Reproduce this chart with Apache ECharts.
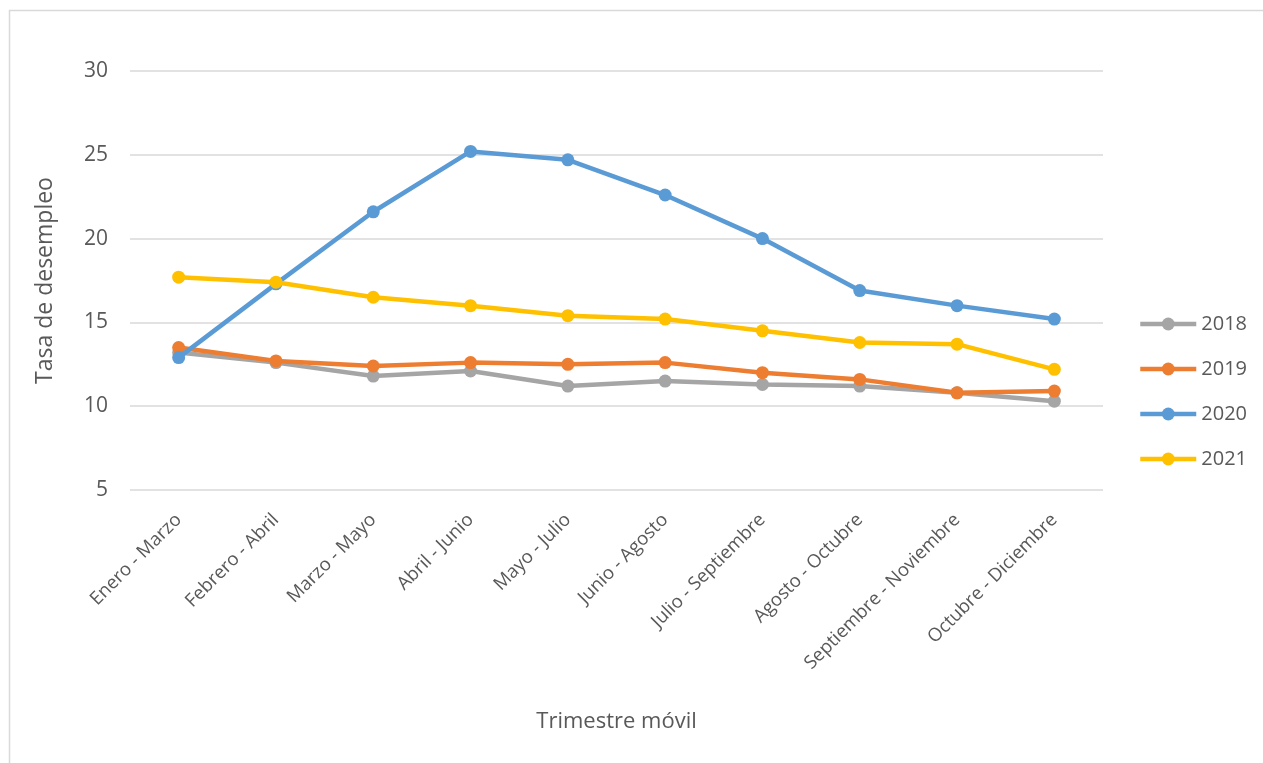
<!DOCTYPE html>
<html>
<head>
<meta charset="utf-8">
<script src="https://cdn.jsdelivr.net/npm/echarts@6/dist/echarts.min.js"></script>
<style>
html,body{margin:0;padding:0;background:#fff;}
#chart{width:1263px;height:763px;}
</style>
</head>
<body>
<div id="chart"></div>
<script>
const categories = ["Enero - Marzo","Febrero - Abril","Marzo - Mayo","Abril - Junio","Mayo - Julio","Junio - Agosto","Julio - Septiembre","Agosto - Octubre","Septiembre - Noviembre","Octubre - Diciembre"];
const s2018 = [13.2,12.6,11.8,12.1,11.2,11.5,11.3,11.2,10.8,10.3];
const s2019 = [13.5,12.7,12.4,12.6,12.5,12.6,12.0,11.6,10.8,10.9];
const s2020 = [12.9,17.3,21.6,25.2,24.7,22.6,20.0,16.9,16.0,15.2];
const s2021 = [17.7,17.4,16.5,16.0,15.4,15.2,14.5,13.8,13.7,12.2];
const seriesNames = ["2018","2019","2020","2021"];
const colors = ["#A5A5A5","#ED7D31","#5B9BD5","#FFC000"];
const yTicks = [5,10,15,20,25,30];

const FONT = "'Open Sans', 'Noto Sans', sans-serif";
const chart = echarts.init(document.getElementById('chart'));
const data = [s2018, s2019, s2020, s2021];
chart.setOption({
  animation: false,
  backgroundColor: '#fff',
  color: colors,
  graphic: [{
    type: 'rect', shape: {x: 9.5, y: 10.5, width: 1300, height: 800},
    style: {fill: 'none', stroke: '#d9d9d9', lineWidth: 1.5}, silent: true, z: -10
  }],
  grid: {left: 130, right: 160, top: 71, bottom: 273},
  legend: {
    orient: 'vertical', right: 11, top: 309,
    itemWidth: 56, itemHeight: 16, itemGap: 25,
    lineStyle: {width: 4.5},
    textStyle: {fontSize: 20, color: '#595959', fontFamily: FONT},
    data: seriesNames
  },
  xAxis: {
    type: 'category', data: categories, boundaryGap: true,
    name: 'Trimestre móvil', nameLocation: 'middle', nameGap: 221,
    nameTextStyle: {fontSize: 22, color: '#595959', fontFamily: FONT},
    axisLine: {show: false}, axisTick: {show: false},
    axisLabel: {rotate: 45, interval: 0, fontSize: 18.5, color: '#595959', fontFamily: FONT, margin: 27}
  },
  yAxis: {
    type: 'value', min: yTicks[0], max: yTicks[yTicks.length-1], interval: 5,
    name: 'Tasa de desempleo', nameLocation: 'middle', nameGap: 73,
    nameTextStyle: {fontSize: 23, color: '#595959', fontFamily: FONT},
    axisLine: {show: false}, axisTick: {show: false},
    axisLabel: {fontSize: 21, color: '#595959', fontFamily: FONT, margin: 22},
    splitLine: {lineStyle: {color: '#d9d9d9', width: 1.5}}
  },
  series: seriesNames.map((n, i) => ({
    name: n, type: 'line', data: data[i],
    symbol: 'circle', symbolSize: 13,
    lineStyle: {width: 4.5, color: colors[i]},
    itemStyle: {color: colors[i]},
    z: 2 + i
  }))
});
</script>
</body>
</html>
